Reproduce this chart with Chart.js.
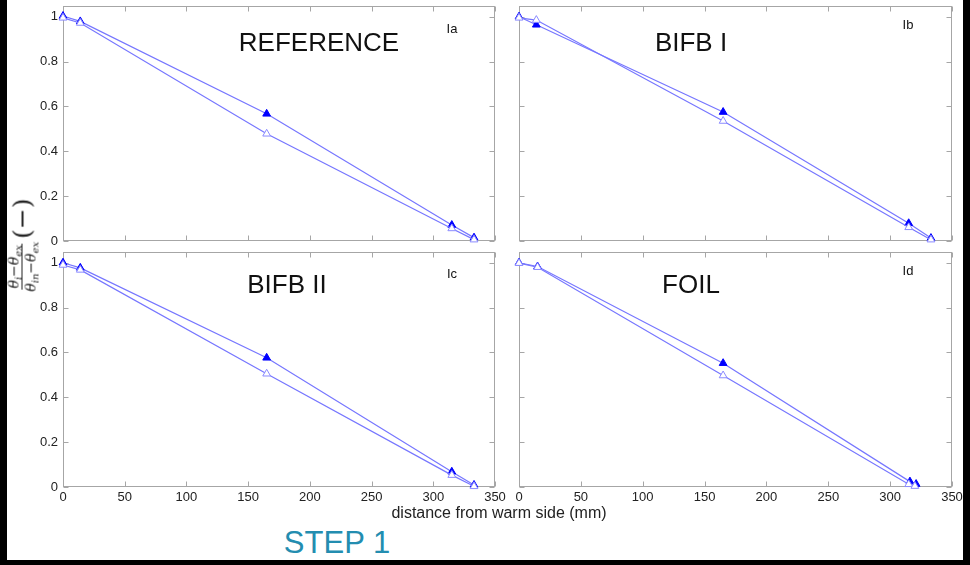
<!DOCTYPE html>
<html>
<head>
<meta charset="utf-8">
<script src="https://cdn.jsdelivr.net/npm/chart.js@4/dist/chart.umd.min.js"></script>
<style>
  html, body { margin: 0; padding: 0; background: #fff; }
  #wrap { position: relative; width: 970px; height: 565px; overflow: hidden; background: #fff; }
  canvas { position: absolute; }
  .txt { position: absolute; transform: translate(-50%, -50%); white-space: nowrap;
         font-family: 'Liberation Sans', Arial, sans-serif; color: #111; }
  .big { font-size: 26px; }
  .tag { font-size: 13px; }
  #xlab { font-size: 16px; color: #222; }
  #step { font-size: 31px; color: #238db0; }
  #ylab { position: absolute; left: 22px; top: 245px; transform: translate(-50%, -50%) rotate(-90deg);
          display: flex; align-items: center; white-space: nowrap; color: #222;
          font-family: 'DejaVu Serif', serif; font-style: italic; }
  .frac { display: inline-flex; flex-direction: column; align-items: center; font-size: 14px; line-height: 14px; }
  .num { border-bottom: 1px solid #222; padding: 0 1px 1px; }
  .den { padding-top: 1px; }
  .par { font-style: normal; font-size: 25px; margin-left: 3px; }
  sub { font-size: 10px; vertical-align: -3px; line-height: 0; }
  #frame { position: absolute; left: 0; top: 0; width: 970px; height: 565px; box-sizing: border-box;
           border-left: 7px solid #000; border-right: 7px solid #000; border-bottom: 5px solid #000; }
</style>
</head>
<body>
<div id="wrap">
  <canvas id="pIa" width="510" height="250" style="left:0;top:0"></canvas>
  <canvas id="pIb" width="460" height="250" style="left:510px;top:0"></canvas>
  <canvas id="pIc" width="510" height="270" style="left:0;top:246px"></canvas>
  <canvas id="pId" width="460" height="270" style="left:510px;top:246px"></canvas>

  <div class="txt big" style="left:319px;top:42px">REFERENCE</div>
  <div class="txt big" style="left:691px;top:42px">BIFB I</div>
  <div class="txt big" style="left:287px;top:284px">BIFB II</div>
  <div class="txt big" style="left:691px;top:284px">FOIL</div>
  <div class="txt tag" style="left:452px;top:28px">Ia</div>
  <div class="txt tag" style="left:908px;top:24px">Ib</div>
  <div class="txt tag" style="left:452px;top:273px">Ic</div>
  <div class="txt tag" style="left:908px;top:270px">Id</div>

  <div id="ylab">
    <span class="frac">
      <span class="num">θ<sub>i</sub>−θ<sub>ex</sub></span>
      <span class="den">θ<sub>in</sub>−θ<sub>ex</sub></span>
    </span>
    <span class="par">(−)</span>
  </div>
  <div class="txt" id="xlab" style="left:499px;top:513px">distance from warm side (mm)</div>
  <div class="txt" id="step" style="left:337px;top:543px">STEP 1</div>
  <div id="frame"></div>
</div>

<script>
// thermocouple positions (mm from warm side)
const distance = [0, 14, 165, 315, 333];
const distFoilFilled = [0, 15, 165, 316, 321];
const distFoilOpen = [0, 15, 165, 315, 320];

// filled triangles / open triangles for each case
const refFilled = [1.003, 0.979, 0.567, 0.071, 0.015];
const refOpen = [0.995, 0.972, 0.478, 0.056, 0.006];
const bifb1Filled = [1.0, 0.964, 0.575, 0.079, 0.013];
const bifb1Open = [0.995, 0.985, 0.535, 0.061, 0.006];
const bifb2Filled = [1.0, 0.977, 0.576, 0.068, 0.009];
const bifb2Open = [0.99, 0.968, 0.505, 0.053, 0.003];
const foilFilled = [1.0, 0.983, 0.552, 0.024, 0.013];
const foilOpen = [0.998, 0.98, 0.497, 0.012, 0.004];

const fontFamily = "'Liberation Sans', Arial, sans-serif";

function toPoints(xs, ys) {
    return xs.map((x, i) => ({ x: x, y: ys[i] }));
}

// MATLAB-style box with inward ticks on all four sides
const boxTicks = {
    id: 'boxTicks',
    beforeDatasetsDraw(chart) {
        const { ctx, chartArea: a, scales } = chart;
        const L = Math.round(a.left) + 0.5, R = Math.round(a.right) - 0.5;
        const T = Math.round(a.top) + 0.5, B = Math.round(a.bottom) - 0.5;
        const len = 5;
        ctx.save();
        ctx.strokeStyle = '#a6a6a6';
        ctx.lineWidth = 1;
        ctx.strokeRect(L, T, R - L, B - T);
        ctx.beginPath();
        scales.x.ticks.forEach(t => {
            const px = Math.round(scales.x.getPixelForValue(t.value)) + 0.5;
            ctx.moveTo(px, B); ctx.lineTo(px, B - len);
            ctx.moveTo(px, T); ctx.lineTo(px, T + len);
        });
        scales.y.ticks.forEach(t => {
            const py = Math.round(scales.y.getPixelForValue(t.value)) + 0.5;
            ctx.moveTo(L, py); ctx.lineTo(L + len, py);
            ctx.moveTo(R, py); ctx.lineTo(R - len, py);
        });
        ctx.stroke();
        ctx.restore();
    }
};

function makePanel(id, xF, yF, xO, yO, showY, showX, yWidth, xHeight, padRight) {
    const ctx = document.getElementById(id).getContext('2d');
    new Chart(ctx, {
        type: 'scatter',
        data: {
            datasets: [{
                data: toPoints(xO, yO),
                showLine: true,
                borderColor: '#7676ff',
                borderWidth: 1.2,
                pointStyle: 'triangle',
                pointRadius: 4.5,
                pointBorderWidth: 1,
                pointBorderColor: '#8a8aff',
                pointBackgroundColor: '#ffffff',
                clip: false
            }, {
                data: toPoints(xF, yF),
                showLine: true,
                borderColor: '#7676ff',
                borderWidth: 1.2,
                pointStyle: 'triangle',
                pointRadius: 4.5,
                pointBorderWidth: 1,
                pointBorderColor: '#0000ff',
                pointBackgroundColor: '#0000ff',
                clip: false
            }]
        },
        options: {
            responsive: false,
            animation: false,
            devicePixelRatio: 1,
            layout: { padding: { left: 0, top: 5, right: padRight, bottom: 0 } },
            plugins: { legend: { display: false }, tooltip: { enabled: false } },
            scales: {
                x: {
                    type: 'linear',
                    min: 0,
                    max: 350,
                    grid: { display: false, drawTicks: false },
                    border: { display: false },
                    ticks: {
                        display: showX,
                        stepSize: 50,
                        padding: 3,
                        color: '#222',
                        font: { family: fontFamily, size: 13 }
                    },
                    afterFit(s) { s.height = xHeight; s.paddingLeft = 0; s.paddingRight = 0; }
                },
                y: {
                    min: 0,
                    max: 1.05,
                    grid: { display: false, drawTicks: false },
                    border: { display: false },
                    ticks: {
                        display: showY,
                        stepSize: 0.2,
                        includeBounds: false,
                        padding: 5,
                        color: '#222',
                        font: { family: fontFamily, size: 13 },
                        callback: v => String(+v.toFixed(1))
                    },
                    afterFit(s) { s.width = yWidth; s.paddingTop = 0; s.paddingBottom = 0; }
                }
            }
        },
        plugins: [boxTicks]
    });
}

makePanel('pIa', distance, refFilled, distance, refOpen, true, false, 63, 9, 15);
makePanel('pIb', distance, bifb1Filled, distance, bifb1Open, false, false, 9, 9, 18);
makePanel('pIc', distance, bifb2Filled, distance, bifb2Open, true, true, 63, 29, 15);
makePanel('pId', distFoilFilled, foilFilled, distFoilOpen, foilOpen, false, true, 9, 29, 18);
</script>
</body>
</html>
